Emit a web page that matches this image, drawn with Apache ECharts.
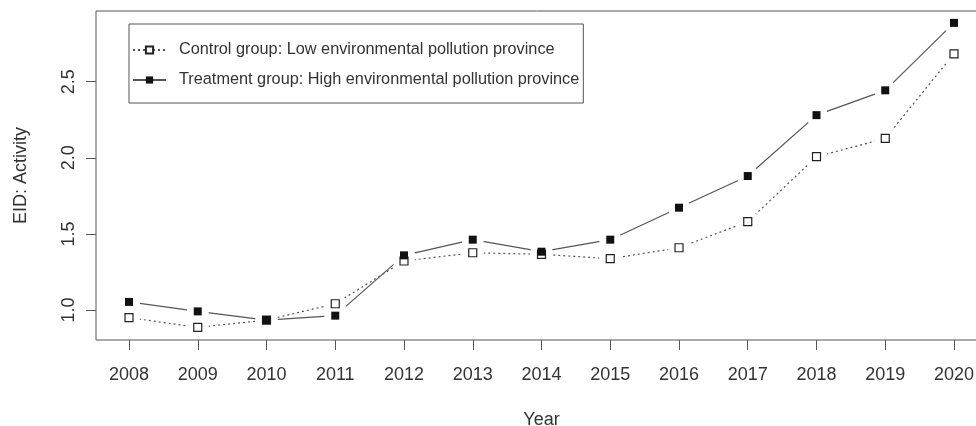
<!DOCTYPE html>
<html>
<head>
<meta charset="utf-8">
<script src="https://cdn.jsdelivr.net/npm/echarts@6/dist/echarts.min.js"></script>
<style>
  html, body { margin: 0; padding: 0; background: #fff; }
  #chart { width: 976px; height: 426px; }
</style>
</head>
<body>
<div id="chart"></div>
<script>
// Years on the horizontal axis
const years = [2008, 2009, 2010, 2011, 2012, 2013, 2014, 2015, 2016, 2017, 2018, 2019, 2020];
// EID activity, low-pollution provinces (control)
const controlValues = [0.95, 0.886, 0.934, 1.041, 1.322, 1.376, 1.366, 1.337, 1.409, 1.580, 2.007, 2.127, 2.683];
// EID activity, high-pollution provinces (treatment)
const treatmentValues = [1.053, 0.991, 0.934, 0.963, 1.359, 1.462, 1.383, 1.462, 1.672, 1.880, 2.280, 2.443, 2.886];
// Tick labels on the value axis
const yTicks = [1.0, 1.5, 2.0, 2.5];

const controlName = 'Control group: Low environmental pollution province';
const treatmentName = 'Treatment group: High environmental pollution province';

const pairs = (vals) => years.map((y, i) => [y, vals[i]]);

const font = 'Liberation Sans, Arial, sans-serif';
const textColor = '#333';
const lineColor = '#555';

const chart = echarts.init(document.getElementById('chart'), null, { renderer: 'canvas' });

chart.setOption({
  animation: false,
  backgroundColor: '#fff',
  textStyle: { fontFamily: font },
  grid: {
    left: 96, top: 11, right: -11, bottom: 86,
    containLabel: false,
    outerBoundsMode: 'none',
    show: true, borderColor: lineColor, borderWidth: 1, backgroundColor: 'transparent'
  },
  legend: {
    data: [controlName, treatmentName],
    orient: 'vertical',
    left: 129, top: 24,
    backgroundColor: '#fff',
    borderColor: lineColor, borderWidth: 1, borderRadius: 0,
    padding: [17, 4, 14, 3],
    itemWidth: 33, itemHeight: 9,
    itemGap: 12,
    selectedMode: false,
    textStyle: { fontSize: 16.3, color: textColor, fontFamily: font, padding: [0, 0, 0, 8], lineHeight: 18 }
  },
  xAxis: {
    type: 'value',
    min: 2007.52, max: 2020.48,
    name: 'Year', nameLocation: 'middle', nameGap: 71,
    nameTextStyle: { fontSize: 18, color: textColor, fontFamily: font },
    axisLine: { show: false },
    splitLine: { show: false },
    axisTick: { show: true, length: 10, inside: false, customValues: years, lineStyle: { color: lineColor, width: 1 } },
    axisLabel: { customValues: years, fontSize: 18, color: textColor, margin: 26, formatter: (v) => String(v) }
  },
  yAxis: {
    type: 'value',
    min: 0.803, max: 2.964,
    name: 'EID: Activity', nameLocation: 'middle', nameGap: 66, nameRotate: 90,
    nameTextStyle: { fontSize: 18, color: textColor, fontFamily: font },
    axisLine: { show: false },
    splitLine: { show: false },
    axisTick: { show: true, length: 10, inside: false, customValues: yTicks, lineStyle: { color: lineColor, width: 1 } },
    axisLabel: { customValues: yTicks, rotate: 90, fontSize: 18, color: textColor, margin: 18, formatter: (v) => v.toFixed(1) }
  },
  series: [
    {
      name: controlName, type: 'line', z: 1, data: pairs(controlValues),
      symbol: 'rect', symbolSize: 8,
      lineStyle: { color: lineColor, width: 1.2, type: [2, 3] },
      itemStyle: { color: '#fff', borderColor: '#222', borderWidth: 1.2 }
    },
    {
      name: treatmentName, type: 'line', z: 1, data: pairs(treatmentValues),
      symbol: 'rect', symbolSize: 8,
      lineStyle: { color: lineColor, width: 1.2, type: 'solid' },
      itemStyle: { color: '#111', borderColor: '#111', borderWidth: 0 }
    },
    // White gaps around the points, as in a "both" type plot
    {
      name: 'gapControl', type: 'scatter', z: 2, data: pairs(controlValues),
      symbol: 'circle', symbolSize: 22, silent: true,
      itemStyle: { color: '#fff', opacity: 1 }
    },
    {
      name: 'gapTreatment', type: 'scatter', z: 2, data: pairs(treatmentValues),
      symbol: 'circle', symbolSize: 22, silent: true,
      itemStyle: { color: '#fff', opacity: 1 }
    },
    // Point markers drawn on top
    {
      name: 'ptControl', type: 'scatter', z: 3, data: pairs(controlValues),
      symbol: 'rect', symbolSize: 8, silent: true,
      itemStyle: { color: '#fff', borderColor: '#222', borderWidth: 1.2, opacity: 1 }
    },
    {
      name: 'ptTreatment', type: 'scatter', z: 4, data: pairs(treatmentValues),
      symbol: 'rect', symbolSize: 8, silent: true,
      itemStyle: { color: '#111', opacity: 1 }
    }
  ]
});
</script>
</body>
</html>
